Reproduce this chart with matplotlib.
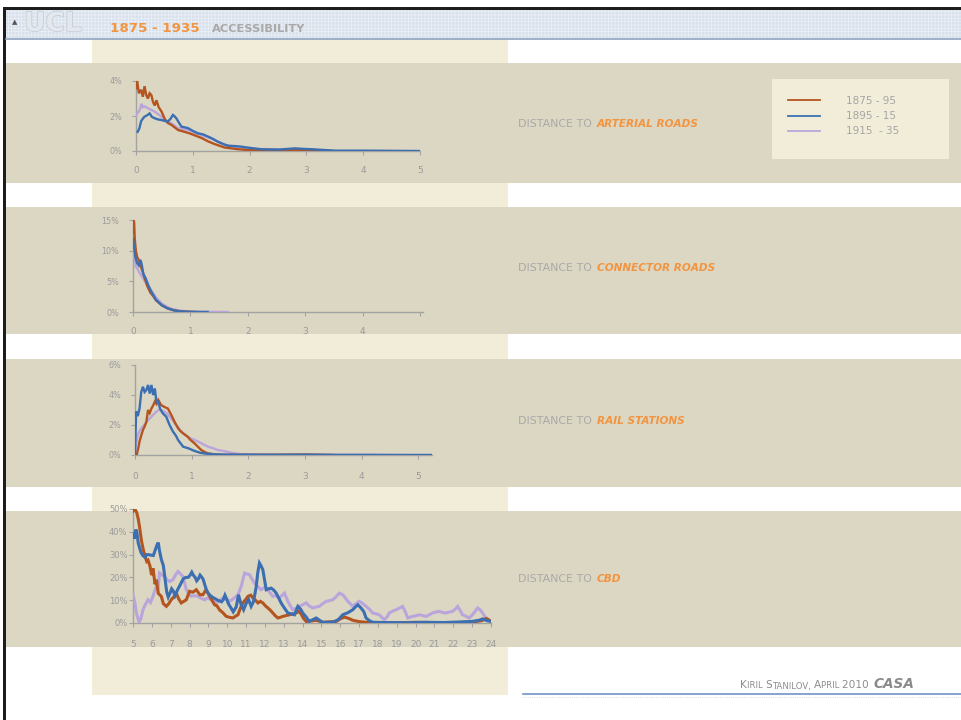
import matplotlib
matplotlib.use('Agg')
import matplotlib.pyplot as plt
from matplotlib.patches import Rectangle
from matplotlib.lines import Line2D
import matplotlib.patheffects as pe
from matplotlib.ticker import FuncFormatter

plt.rcParams['font.family'] = ['DejaVu Sans']
plt.rcParams['hatch.linewidth'] = 0.4

# ---------------- data ----------------
periods = ['1875 - 95', '1895 - 15', '1915  - 35']
colors = ['#b4541f', '#3b6fb2', '#b9a5dc']

# arterial roads (distance, share %)
art_x_o = [0.0, 0.02, 0.05, 0.09, 0.12, 0.15, 0.18, 0.21, 0.24, 0.27, 0.30, 0.33, 0.36, 0.40, 0.45,
           0.51, 0.56, 0.62, 0.68, 0.74, 0.85, 0.95, 1.03, 1.15, 1.27, 1.38, 1.47, 1.56, 1.68, 1.8,
           2.0, 2.3, 2.6, 2.9, 3.2, 3.45]
art_y_o = [3.6, 4.0, 3.3, 3.5, 3.1, 3.7, 3.2, 3.0, 3.3, 3.2, 2.8, 2.6, 2.9, 2.5, 2.25,
           1.8, 1.6, 1.5, 1.35, 1.2, 1.1, 1.0, 0.9, 0.75, 0.55, 0.4, 0.3, 0.2, 0.15, 0.1,
           0.05, 0.06, 0.04, 0.05, 0.02, 0.0]
art_x_b = [0.03, 0.06, 0.09, 0.12, 0.15, 0.2, 0.24, 0.28, 0.33, 0.39, 0.45, 0.5, 0.56, 0.61,
           0.65, 0.68, 0.71, 0.75, 0.8, 0.86, 0.92, 1.0, 1.09, 1.18, 1.27, 1.35, 1.44, 1.52,
           1.62, 1.75, 1.85, 2.0, 2.2, 2.5, 2.8, 2.95, 3.1, 3.3, 3.5, 4.0, 4.5, 5.0]
art_y_b = [1.1, 1.3, 1.7, 1.85, 1.96, 2.05, 2.15, 1.95, 1.87, 1.8, 1.77, 1.72, 1.68, 1.85,
           2.06, 1.98, 1.87, 1.65, 1.39, 1.35, 1.3, 1.15, 1.01, 0.95, 0.82, 0.7, 0.53, 0.42,
           0.3, 0.28, 0.25, 0.18, 0.1, 0.08, 0.15, 0.12, 0.1, 0.06, 0.02, 0.02, 0.01, 0.0]
art_x_l = [0.0, 0.02, 0.06, 0.1, 0.12, 0.16, 0.21, 0.27, 0.33, 0.39, 0.45, 0.53, 0.62, 0.68,
           0.74, 0.83, 0.92, 1.03, 1.15, 1.27, 1.38, 1.47, 1.56, 1.65, 1.74, 1.9, 2.1, 2.4,
           2.7, 3.0, 3.3]
art_y_l = [2.0, 2.15, 2.3, 2.7, 2.5, 2.55, 2.44, 2.35, 2.25, 2.1, 1.96, 1.75, 1.58, 1.45,
           1.3, 1.25, 1.2, 1.05, 0.91, 0.78, 0.63, 0.5, 0.34, 0.3, 0.25, 0.18, 0.12, 0.1,
           0.08, 0.07, 0.02]

# connector roads
con_x_o = [0.0, 0.01, 0.02, 0.03, 0.05, 0.07, 0.1, 0.13, 0.17, 0.2, 0.25, 0.3, 0.35, 0.4,
           0.5, 0.6, 0.7, 0.8, 0.9, 1.0, 1.1]
con_y_o = [13.0, 15.4, 14.5, 12.0, 10.0, 9.0, 8.5, 7.6, 6.5, 5.6, 4.2, 3.2, 2.6, 1.9,
           1.1, 0.6, 0.3, 0.15, 0.08, 0.03, 0.0]
con_x_b = [0.0, 0.02, 0.04, 0.07, 0.1, 0.13, 0.15, 0.18, 0.22, 0.27, 0.32, 0.4, 0.5, 0.6,
           0.7, 0.8, 0.9, 1.0, 1.15, 1.3]
con_y_b = [12.0, 10.5, 9.0, 8.0, 7.6, 8.5, 7.8, 6.2, 5.5, 4.3, 3.3, 2.0, 1.1, 0.6,
           0.3, 0.12, 0.06, 0.02, 0.01, 0.0]
con_x_l = [0.0, 0.02, 0.05, 0.08, 0.12, 0.17, 0.22, 0.27, 0.32, 0.4, 0.5, 0.6, 0.7, 0.8,
           0.9, 1.0, 1.2, 1.4, 1.65]
con_y_l = [11.0, 9.5, 7.4, 7.0, 6.3, 5.6, 4.8, 4.0, 3.5, 2.4, 1.4, 0.8, 0.45, 0.25,
           0.15, 0.08, 0.04, 0.02, 0.0]

# rail stations
rail_x_o = [0.03, 0.06, 0.08, 0.11, 0.14, 0.17, 0.2, 0.23, 0.26, 0.29, 0.32, 0.35, 0.38, 0.41,
            0.46, 0.52, 0.58, 0.64, 0.7, 0.76, 0.8, 0.85, 0.93, 0.98, 1.05, 1.11, 1.17, 1.23,
            1.29, 1.4, 1.5, 2.0, 2.5, 3.0, 3.5]
rail_y_o = [0.0, 0.5, 0.9, 1.3, 1.67, 1.9, 2.2, 3.0, 2.8, 3.1, 3.3, 3.56, 3.4, 3.67,
            3.33, 3.2, 3.1, 2.67, 2.2, 1.78, 1.6, 1.44, 1.22, 1.0, 0.78, 0.55, 0.33, 0.2,
            0.1, 0.05, 0.02, 0.01, 0.02, 0.03, 0.0]
rail_x_b = [0.0, 0.02, 0.05, 0.08, 0.11, 0.14, 0.17, 0.2, 0.23, 0.26, 0.29, 0.32, 0.35, 0.38,
            0.41, 0.44, 0.49, 0.55, 0.61, 0.67, 0.72, 0.76, 0.81, 0.85, 0.94, 1.05, 1.15, 1.23,
            1.4, 1.6, 2.0, 2.5, 3.0, 3.5, 4.0, 4.5, 5.0, 5.25]
rail_y_b = [0.0, 2.9, 2.6, 3.1, 4.2, 4.55, 4.2, 4.33, 4.67, 4.1, 4.67, 4.0, 4.44, 3.44,
            3.6, 3.1, 2.78, 2.56, 2.0, 1.56, 1.3, 1.0, 0.75, 0.55, 0.45, 0.27, 0.15, 0.1,
            0.05, 0.02, 0.02, 0.01, 0.02, 0.01, 0.01, 0.0, 0.0, 0.0]
rail_x_l = [0.0, 0.02, 0.05, 0.08, 0.11, 0.15, 0.2, 0.25, 0.29, 0.34, 0.38, 0.42, 0.46, 0.52,
            0.57, 0.61, 0.66, 0.7, 0.76, 0.82, 0.88, 0.93, 1.02, 1.11, 1.2, 1.29, 1.38, 1.46,
            1.55, 1.64, 1.75, 1.88, 2.1, 2.5, 3.0, 3.5, 4.0, 4.5, 5.0, 5.25]
rail_y_l = [0.2, 0.8, 1.33, 1.6, 1.78, 1.95, 2.2, 2.4, 2.56, 2.75, 2.9, 3.0, 3.0, 2.9,
            2.75, 2.56, 2.35, 2.1, 1.85, 1.56, 1.35, 1.2, 1.05, 0.9, 0.72, 0.55, 0.45, 0.33,
            0.28, 0.2, 0.12, 0.05, 0.03, 0.02, 0.02, 0.01, 0.01, 0.01, 0.0, 0.0]

# CBD
cbd_x_o = [5.0, 5.1, 5.2, 5.28, 5.35, 5.45, 5.55, 5.65, 5.73, 5.8,
           5.9, 5.99, 6.06, 6.17, 6.24, 6.34, 6.5, 6.61, 6.77, 6.9,
           7.03, 7.17, 7.3, 7.43, 7.56, 7.7, 7.83, 8.0, 8.18, 8.36,
           8.55, 8.71, 8.85, 8.98, 9.15, 9.33, 9.46, 9.59, 9.77, 9.95,
           10.12, 10.3, 10.45, 10.57, 10.7, 10.83, 11.0, 11.1, 11.25, 11.36,
           11.5, 11.63, 11.76, 11.89, 12.03, 12.16, 12.3, 12.42, 12.55, 12.69,
           12.82, 12.95, 13.1, 13.3, 13.5, 13.66, 13.8, 13.92, 14.05, 14.19,
           14.45, 14.72, 14.9, 15.07, 15.4, 15.78, 16.0, 16.22, 16.45, 16.66,
           17.0, 17.37, 18, 19, 20, 21, 22, 23, 23.5, 23.75, 24.0]
cbd_y_o = [49, 50, 48.4, 45.5, 42, 36, 32, 29, 27, 27.5,
           25, 21, 24, 17, 19, 13, 11.7, 8.5, 7.3, 8.5,
           10.2, 11.5, 13, 10.5, 8.8, 9.5, 10.2, 13.9, 13.5, 14.6,
           12.4, 12.4, 14.3, 13.1, 10.5, 8, 7.5, 5.8, 4.5, 2.9,
           2.5, 2.2, 3.0, 3.6, 6.5, 8.8, 10.5, 11.7, 12.2, 11.0,
           10.0, 8.8, 9.5, 8.8, 7.5, 6.6, 5.5, 4.4, 3.2, 2.2,
           2.5, 2.9, 3.2, 3.6, 4.0, 4.4, 5.1, 4.0, 2.0, 0.7,
           0.9, 1.2, 0.8, 0.3, 0.5, 0.7, 1.8, 2.6, 2.0, 1.2,
           0.6, 0.3, 0.2, 0.1, 0.3, 0.2, 0.1, 0.5, 1.0, 2.0, 0.8]
cbd_x_b = [5.0, 5.08, 5.15, 5.2, 5.28, 5.35, 5.42, 5.53, 5.64, 5.72,
           5.8, 5.93, 6.08, 6.18, 6.26, 6.34, 6.4, 6.5, 6.61, 6.7,
           6.79, 6.87, 6.96, 7.05, 7.14, 7.23, 7.36, 7.49, 7.58, 7.67,
           7.8, 7.93, 8.03, 8.12, 8.2, 8.3, 8.38, 8.47, 8.56, 8.65,
           8.73, 8.82, 8.9, 9.0, 9.18, 9.35, 9.5, 9.7, 9.79, 9.88,
           9.97, 10.06, 10.2, 10.32, 10.48, 10.6, 10.74, 10.87, 11.0, 11.14,
           11.27, 11.4, 11.54, 11.62, 11.71, 11.8, 11.89, 11.98, 12.07, 12.2,
           12.33, 12.46, 12.6, 12.73, 12.86, 13.04, 13.22, 13.4, 13.57, 13.75,
           13.9, 14.01, 14.2, 14.36, 14.55, 14.72, 14.9, 15.07, 15.3, 15.6,
           15.9, 16.13, 16.4, 16.66, 16.8, 16.93, 17.1, 17.25, 17.37, 17.55,
           17.72, 18.5, 19.5, 20.5, 21.5, 22.5, 23.0, 23.37, 23.55, 23.8, 24.0]
cbd_y_b = [39, 37, 41, 40, 35, 33, 31, 29.5, 28.8, 30,
           30, 29.8, 29.6, 32, 33.9, 35.3, 32, 28, 25.2, 19.4,
           13.6, 11.4, 13, 15, 14, 12, 14.5, 16.5, 18, 19.4,
           20, 20, 21, 22.3, 21, 20, 18.5, 19.4, 21, 20.1,
           19, 16.5, 14.5, 12.9, 11.5, 10.7, 10, 9.3, 10.2, 12.2,
           10.5, 8.5, 6.6, 4.9, 7.1, 12.4, 8, 5.8, 8.5, 10.2,
           7.3, 9.5, 16, 22, 26.3, 25, 23.4, 19, 14.6, 15,
           15.3, 14.5, 13.1, 11, 8.8, 6.5, 4.4, 4.0, 3.6, 7.3,
           6, 4.4, 2.5, 0.7, 1.5, 2.2, 1.2, 0.3, 0.3, 0.3,
           1.5, 3.6, 4.5, 5.8, 7.0, 8, 6.6, 5.0, 2.2, 1.0,
           0.3, 0.2, 0.1, 0.3, 0.2, 0.5, 0.7, 1.2, 1.8, 1.0, 0.7]
cbd_x_l = [5.0, 5.1, 5.18, 5.32, 5.42, 5.53, 5.65, 5.8, 5.93, 6.06,
           6.15, 6.24, 6.33, 6.41, 6.55, 6.68, 6.8, 6.94, 7.12, 7.25,
           7.39, 7.52, 7.65, 7.83, 7.95, 8.09, 8.27, 8.45, 8.62, 8.8,
           8.97, 9.15, 9.3, 9.42, 9.6, 9.77, 9.95, 10.12, 10.3, 10.48,
           10.6, 10.74, 10.92, 11.05, 11.18, 11.3, 11.45, 11.62, 11.8, 11.95,
           12.07, 12.25, 12.42, 12.6, 12.77, 12.9, 13.04, 13.22, 13.35, 13.48,
           13.65, 13.83, 14.0, 14.19, 14.35, 14.54, 14.7, 14.89, 15.07, 15.25,
           15.42, 15.6, 15.78, 15.95, 16.13, 16.27, 16.4, 16.53, 16.66, 16.84,
           17.01, 17.2, 17.37, 17.55, 17.72, 17.9, 18.07, 18.2, 18.34, 18.47,
           18.6, 18.78, 18.96, 19.13, 19.31, 19.45, 19.58, 19.71, 19.84, 20.02,
           20.19, 20.37, 20.55, 20.72, 20.9, 21.08, 21.25, 21.43, 21.61, 21.78,
           21.96, 22.1, 22.23, 22.36, 22.49, 22.66, 22.84, 23.0, 23.15, 23.29,
           23.42, 23.55, 23.7, 23.82, 24.0]
cbd_y_l = [12.4, 9, 4.4, 0.3, 2, 5.8, 8, 10.2, 9, 11.7,
           14, 16, 15, 21.9, 21, 20.4, 19, 18.2, 19, 21,
           22.6, 21.5, 20.4, 14.6, 13, 11.7, 12, 11.7, 10.8, 10.2,
           11, 10.2, 9.5, 8.8, 9.8, 11, 10.5, 9.5, 10.5, 11.7,
           13, 16, 21.9, 21.5, 21.2, 19.5, 17.5, 16, 14.6, 15.5,
           15.3, 13.5, 11.7, 12, 11, 12, 13.1, 9.5, 7.5, 5.8,
           6.5, 7.3, 8, 8.8, 7.5, 6.6, 7, 7.3, 8.5, 9.5,
           9.8, 10.2, 11.5, 13.1, 12.4, 11, 9.5, 8.5, 7.3, 8.5,
           9.5, 8.5, 7.3, 6, 4.4, 4, 3.6, 2.5, 1.5, 2.5,
           4.4, 5.2, 5.8, 6.5, 7.3, 5, 2.2, 2.6, 2.9, 3.2,
           3.6, 3.3, 2.9, 3.6, 4.4, 4.8, 5.1, 4.6, 4.4, 4.8,
           5.1, 6, 7.3, 5.5, 3.6, 3, 2.2, 3.5, 5, 6.6,
           5.8, 4.4, 2.5, 1.5, 0.7]

panel_titles = ['ARTERIAL ROADS', 'CONNECTOR ROADS', 'RAIL STATIONS', 'CBD']

# ---------------- styling ----------------
W, H = 961, 720
TAN = '#dcd7c3'
CREAM = '#f2edd8'
ORANGE_T = '#f29440'
GREY_T = '#a9a9a9'
AX_C = '#a3a3a3'

fig = plt.figure(figsize=(W / 100, H / 100), dpi=100)
fig.patch.set_facecolor('white')
bg = fig.add_axes([0, 0, 1, 1], zorder=-10)
bg.set_xlim(0, W)
bg.set_ylim(H, 0)
bg.axis('off')


def rect(x0, y0, x1, y1, **kw):
    bg.add_patch(Rectangle((x0, y0), x1 - x0, y1 - y0, **kw))


# cream column and tan bands
rect(92, 39, 508, 695, facecolor=CREAM, lw=0)
for y0, y1 in [(63, 183), (207, 334), (359, 487), (511, 647)]:
    rect(6, y0, W, y1, facecolor=TAN, lw=0)

# header band
rect(6, 9.5, W, 38, facecolor='#d9e1ec', edgecolor='#eff3f8', hatch='+++++', lw=0)
bg.plot([6, W], [38.6, 38.6], color='#8ea3bf', lw=1.2)
rect(3, 6.5, W, 9.5, facecolor='#1d1d1d', lw=0)
rect(3, 6.5, 6, H, facecolor='#1d1d1d', lw=0)
bg.text(14.5, 22, '\u25B2', fontsize=5, color='#555555', ha='center', va='center')
bg.text(24, 24, 'UCL', fontsize=19, fontweight='bold', color='#e3e8ef', ha='left', va='center',
        path_effects=[pe.withStroke(linewidth=1.0, foreground='#c3cad4')])
bg.text(110, 28, '1875 - 1935', fontsize=9.6, fontweight='bold', color=ORANGE_T,
        ha='left', va='center')
bg.text(212, 28.5, 'ACCESSIBILITY', fontsize=8.2, fontweight='bold', color=GREY_T,
        ha='left', va='center')

# panel labels
for yy, ttl in zip([124, 268, 420.5, 579], panel_titles):
    bg.text(518, yy, 'DISTANCE TO', fontsize=7.9, color=GREY_T, ha='left', va='center')
    bg.text(597, yy, ttl, fontsize=7.6, color=ORANGE_T, fontweight='bold', style='italic',
            ha='left', va='center')

# legend box
rect(772, 79, 949, 159, facecolor='#f2edd8', lw=0)

# footer
bg.plot([523, W], [694, 694], color='#7094c6', lw=1.2)
bg.plot([523, W], [697, 697], color='#cfcfcf', lw=0.6, ls=':')

fig.canvas.draw()
renderer = fig.canvas.get_renderer()
x = 740
for s, big in [('K', True), ('IRIL ', False), ('S', True), ('TANILOV, ', False),
               ('A', True), ('PRIL ', False), ('2010 ', True)]:
    t = bg.text(x, 688.5, s, fontsize=7.6 if big else 6.1, color='#8d8d8d', ha='left',
                va='baseline')
    bb = t.get_window_extent(renderer)
    x = bb.x1
bg.text(x + 1, 688.5, 'CASA', fontsize=9.8, color='#8a8a8a', fontweight='bold', style='italic',
        ha='left', va='baseline')


# ---------------- charts ----------------
def mkax(L, R, T, B):
    ax = fig.add_axes([L / W, 1 - B / H, (R - L) / W, (B - T) / H])
    ax.patch.set_alpha(0)
    for s in ['top', 'right']:
        ax.spines[s].set_visible(False)
    for s in ['left', 'bottom']:
        ax.spines[s].set_color(AX_C)
        ax.spines[s].set_linewidth(1.0)
    ax.tick_params(direction='out', length=3, width=0.8, color=AX_C, labelcolor='#9a9a9a')
    ax.yaxis.set_major_formatter(FuncFormatter(lambda v, p: f'{v:.0f}%'))
    return ax


def draw(ax, xs, ys, lw):
    for i in [2, 0, 1]:
        ax.plot(xs[i], ys[i], color=colors[i], lw=lw, solid_joinstyle='miter', zorder=3)


ax1 = mkax(136, 420, 81, 151)
draw(ax1, [art_x_o, art_x_b, art_x_l], [art_y_o, art_y_b, art_y_l], 1.7)
ax1.set_xlim(0, 5)
ax1.set_ylim(0, 4)
ax1.set_xticks(range(0, 6))
ax1.set_yticks([0, 2, 4])
ax1.tick_params(axis='x', labelsize=6.5, pad=8)
ax1.tick_params(axis='y', labelsize=5.8, pad=7)

ax2 = mkax(133, 423, 220, 312)
draw(ax2, [con_x_o, con_x_b, con_x_l], [con_y_o, con_y_b, con_y_l], 1.7)
ax2.set_xlim(0, 5.05)
ax2.set_ylim(0, 15)
ax2.set_xticks(range(0, 6))
ax2.set_xticklabels(['0', '1', '2', '3', '4', ''])
ax2.set_yticks([0, 5, 10, 15])
ax2.tick_params(axis='x', labelsize=6.5, pad=8)
ax2.tick_params(axis='y', labelsize=5.8, pad=7)

ax3 = mkax(135, 432, 365, 455)
draw(ax3, [rail_x_o, rail_x_b, rail_x_l], [rail_y_o, rail_y_b, rail_y_l], 1.7)
ax3.set_xlim(0, 5.24)
ax3.set_ylim(0, 6)
ax3.set_xticks(range(0, 6))
ax3.set_yticks([0, 2, 4, 6])
ax3.tick_params(axis='x', labelsize=6.5, pad=9)
ax3.tick_params(axis='y', labelsize=5.8, pad=7)

ax4 = mkax(133, 491, 509, 623)
draw(ax4, [cbd_x_o, cbd_x_b, cbd_x_l], [cbd_y_o, cbd_y_b, cbd_y_l], 2.2)
ax4.set_xlim(5, 24)
ax4.set_ylim(0, 50)
ax4.set_xticks(range(5, 25))
ax4.set_yticks(range(0, 51, 10))
ax4.tick_params(axis='x', labelsize=6.5, pad=9)
ax4.tick_params(axis='y', labelsize=6.0, pad=1)

# legend
handles = [Line2D([], [], color=c, lw=1.3) for c in colors]
fig.legend(handles, periods, loc='upper left', bbox_to_anchor=(788 / W, 1 - 96 / H),
           frameon=False, fontsize=7.5, handlelength=3.1, handletextpad=2.5,
           labelspacing=0.5, borderpad=0, borderaxespad=0, labelcolor='#a5a5a5')

fig.savefig('out.png', dpi=100, facecolor='white')
